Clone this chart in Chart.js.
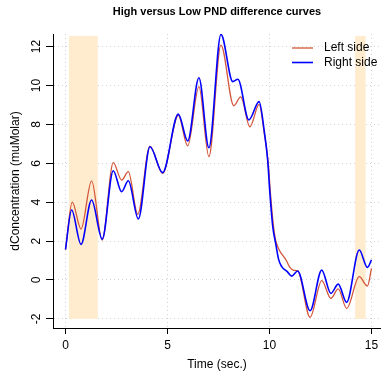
<html>
    <body style="margin:0">
        <div style="width:381px;height:375px">
            <canvas id="myChart" width="381" height="375"></canvas>
        </div>

        <script src="https://cdn.jsdelivr.net/npm/chart.js"></script>

        <script>
            // values
            var timeLeft = [0, 0.33, 0.76, 1.28, 1.80, 2.34, 2.75, 3.08, 3.54, 4.14, 4.76, 5.53, 5.99, 6.54, 7.03, 7.62, 8.25, 8.59, 9.04, 9.49, 9.75, 9.93, 10.05, 10.18, 10.3, 10.43, 10.52, 10.81, 11.0, 11.2, 11.38, 11.99, 12.56, 13.01, 13.37, 13.78, 14.4, 14.8, 15];
            var leftSide = [1.55, 4.0, 2.62, 5.1, 2.05, 6.03, 5.14, 5.57, 3.38, 6.88, 5.48, 8.47, 6.9, 9.94, 6.34, 12.08, 8.96, 9.42, 7.88, 9.03, 7.5, 6.1, 4.4, 2.9, 2.05, 1.65, 1.46, 1.03, 0.65, 0.5, 0.48, -1.92, -0.03, -0.94, -0.46, -1.46, 0.17, -0.31, 0.6];

            var timeRight = [0, 0.30, 0.76, 1.28, 1.80, 2.34, 2.75, 3.08, 3.57, 4.14, 4.76, 5.53, 5.99, 6.54, 7.03, 7.62, 8.2, 8.45, 8.99, 9.49, 9.75, 9.91, 10.02, 10.16, 10.3, 10.45, 10.6, 10.87, 11.09, 11.38, 11.99, 12.56, 13.01, 13.37, 13.78, 14.4, 14.8, 15];
            var rightSide = [1.58, 3.6, 1.83, 4.11, 2.1, 5.62, 4.54, 5.1, 3.14, 6.85, 5.52, 8.53, 7.15, 10.4, 6.8, 12.63, 10.2, 10.32, 8.23, 9.17, 7.6, 6.17, 4.46, 2.74, 1.9, 1.05, 0.69, 0.43, 0.2, 0.46, -1.58, 0.51, -0.69, -0.21, -1.15, 1.54, 0.65, 1.03];

            var xTicks = [0, 5, 10, 15];
            var yTicks = [-2, 0, 2, 4, 6, 8, 10, 12];

            // shaded time windows
            var shadeStart = [0.17, 14.2];
            var shadeEnd = [1.58, 14.71];
            var shadeLow = -2;
            var shadeHigh = 12.55;

            function pairs(xs, ys) {
                return xs.map(function (t, i) { return {x: t, y: ys[i]}; });
            }

            var FONT = "'Liberation Sans', Arial, sans-serif";
            Chart.defaults.font.family = FONT;
            Chart.defaults.font.size = 12;
            Chart.defaults.color = '#000';

            var shadePlugin = {
                id: 'shade',
                beforeDatasetsDraw: function (chart) {
                    var ctx = chart.ctx, x = chart.scales.x, y = chart.scales.y;
                    ctx.save();
                    ctx.fillStyle = '#FFEBCD';
                    for (var i = 0; i < shadeStart.length; i++) {
                        var x0 = x.getPixelForValue(shadeStart[i]);
                        var x1 = x.getPixelForValue(shadeEnd[i]);
                        var y0 = y.getPixelForValue(shadeHigh);
                        var y1 = y.getPixelForValue(shadeLow);
                        ctx.fillRect(x0, y0, x1 - x0, y1 - y0);
                    }
                    ctx.restore();
                }
            };

            // y tick labels turned like R's (reading upwards)
            var yLabelPlugin = {
                id: 'ylabels',
                afterDraw: function (chart) {
                    var ctx = chart.ctx, y = chart.scales.y;
                    ctx.save();
                    ctx.font = "12px " + FONT;
                    ctx.fillStyle = '#000';
                    ctx.textAlign = 'center';
                    ctx.textBaseline = 'middle';
                    yTicks.forEach(function (v) {
                        ctx.save();
                        ctx.translate(37, y.getPixelForValue(v));
                        ctx.rotate(-Math.PI / 2);
                        ctx.fillText(String(v), 0, 0);
                        ctx.restore();
                    });
                    ctx.restore();
                }
            };

            // R style legend: line sample + label, no box
            var legendPlugin = {
                id: 'rlegend',
                afterDatasetsDraw: function (chart) {
                    var ctx = chart.ctx;
                    ctx.save();
                    ctx.font = "12px " + FONT;
                    ctx.textBaseline = 'middle';
                    chart.data.datasets.forEach(function (ds, i) {
                        var yy = 48 + i * 14.5;
                        ctx.strokeStyle = ds.borderColor;
                        ctx.lineWidth = ds.borderWidth;
                        ctx.beginPath();
                        ctx.moveTo(292, yy);
                        ctx.lineTo(313, yy);
                        ctx.stroke();
                        ctx.fillStyle = '#000';
                        ctx.fillText(ds.label, 324, yy);
                    });
                    ctx.restore();
                }
            };

            var ctx = document.getElementById("myChart").getContext("2d");
            var myChart = new Chart(ctx, {
                type: 'line',
                data: {
                    datasets: [
                        {
                            label: "Left side",
                            data: pairs(timeLeft, leftSide),
                            borderColor: "#D2553A",
                            borderWidth: 1.3,
                            pointRadius: 0,
                            fill: false,
                            cubicInterpolationMode: 'monotone',
                            order: 1
                        },
                        {
                            label: "Right side",
                            data: pairs(timeRight, rightSide),
                            borderColor: "#0000FF",
                            borderWidth: 1.6,
                            pointRadius: 0,
                            fill: false,
                            cubicInterpolationMode: 'monotone',
                            order: 0
                        }
                    ]
                },
                options: {
                    responsive: false,
                    animation: false,
                    devicePixelRatio: 1,
                    layout: { padding: 0 },
                    plugins: {
                        legend: { display: false },
                        tooltip: { enabled: false },
                        title: {
                            display: true,
                            text: "High versus Low PND difference curves",
                            fullSize: false,
                            font: { size: 11, weight: 'bold' },
                            padding: { top: 5, bottom: 15.8 }
                        }
                    },
                    scales: {
                        x: {
                            type: 'linear',
                            min: -0.613,
                            max: 15.466,
                            afterBuildTicks: function (s) { s.ticks = xTicks.map(function (v) { return {value: v}; }); },
                            afterFit: function (s) { s.height = 47; s.paddingLeft = 0; s.paddingRight = 0; },
                            grid: { color: '#D3D3D3', tickColor: '#000', tickLength: 6, tickWidth: 1, tickBorderDash: [] },
                            border: { display: true, color: '#000', width: 1, dash: [1, 3] },
                            ticks: { padding: 4, maxRotation: 0, minRotation: 0 },
                            title: { display: true, text: "Time (sec.)", padding: { top: 0, bottom: 3 } }
                        },
                        y: {
                            min: -2.468,
                            max: 12.648,
                            afterBuildTicks: function (s) { s.ticks = yTicks.map(function (v) { return {value: v}; }); },
                            afterFit: function (s) { s.width = 53; s.paddingTop = 0; s.paddingBottom = 0; },
                            grid: { color: '#D3D3D3', tickColor: '#000', tickLength: 7, tickWidth: 1, tickBorderDash: [] },
                            border: { display: true, color: '#000', width: 1, dash: [1, 3] },
                            ticks: { display: false },
                            title: { display: true, text: "dConcentration (muMolar)", padding: { top: 8, bottom: 0 } }
                        }
                    }
                },
                plugins: [shadePlugin, yLabelPlugin, legendPlugin]
            });
        </script>
    </body>
</html>
